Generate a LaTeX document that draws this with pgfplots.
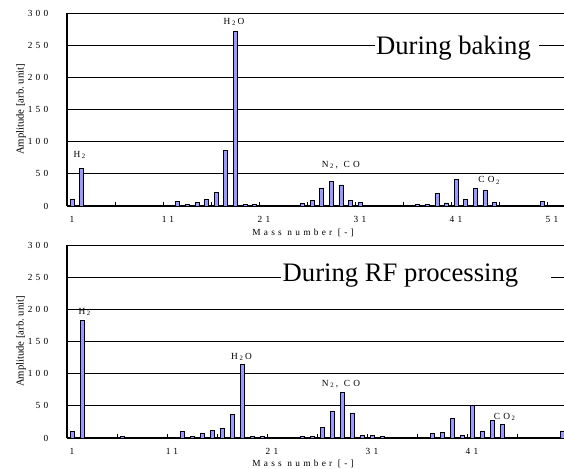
\documentclass[border=0pt]{standalone}
\usepackage{fontspec}
\setmainfont{Liberation Serif}
\newfontfamily\spaced[LetterSpace=35]{Liberation Serif}
\usepackage{pgfplots}
\pgfplotsset{compat=1.18}
\definecolor{barblue}{RGB}{153,153,255}

\tikzset{
  ann/.style={font=\fontsize{7}{8}\selectfont\spaced, inner sep=0pt},
}
\newcommand{\sub}[1]{\,\textsubscript{\spaced #1}\,}
\pgfplotsset{
  spec/.style={
    scale only axis, width=372.75pt, height=144.75pt,
    axis x line*=bottom, axis y line*=left,
    ymin=0, ymax=300, ytick={0,50,...,300},
    ymajorgrids, grid style={black, line width=0.7pt},
    axis line style={black, line width=0.9pt},
    /pgf/number format/assume math mode=true,
    tick label style={font=\fontsize{7}{8}\selectfont\spaced},
    yticklabel style={anchor=east, xshift=-10.5pt},
    xticklabel style={anchor=center, yshift=-10.1pt},
    major x tick style={draw=none},
    major y tick style={draw=none},
    minor x tick style={black, line width=0.5pt},
    xtick align=inside,
    minor tick length=3pt,
    ylabel={Amplitude [arb.\ unit]},
    ylabel style={font=\fontsize{8}{9}\selectfont, at={(axis description cs:-0.0926,0.5)}, anchor=center},
    xlabel={Mass number [-]},
    xlabel style={font=\fontsize{7}{8}\selectfont\spaced, anchor=center},
  },
  bars/.style={ybar, bar width=3pt, fill=barblue, draw=black, line width=0.4pt},
}

\begin{document}
\begin{tikzpicture}
\path[use as bounding box] (0,0) rectangle (423pt,351pt);

% ---------- top: during baking ----------
\begin{axis}[spec,
  at={(50.25pt,196.5pt)}, anchor=south west,
  xmin=0.479, xmax=52.25,
  xtick={1,11,21,31,41,51},
  minor xtick={5.5,10.5,15.5,20.5,25.5,30.5,35.5,40.5,45.5,50.5},
  xlabel style={at={(axis description cs:0.475,-0.14)}},
]
\addplot[bars] coordinates {
(1,11) (2,58) (3,1) (4,1) (5,1)
(12,7) (13,3) (14,6) (15,10) (16,21) (17,87) (18,272) (19,2) (20,2) (22,1)
(25,4) (26,9) (27,28) (28,38) (29,33) (30,9) (31,6) (32,1)
(36,1) (37,2) (38,2) (39,20) (40,5) (41,41) (42,10) (43,27) (44,24) (45,6)
(48,1.5) (49,1.5) (50,7)
};
\fill[white] (axis cs:32.56,227) rectangle (axis cs:49.65,265);
\node[font=\fontsize{20}{24}\selectfont, inner sep=0pt] at (axis cs:40.74,245.5) {During baking};
\node[ann] at (axis cs:1.885,79) {H\sub{2}};
\node[ann] at (axis cs:17.875,286) {H\sub{2}O};
\node[ann] at (axis cs:29.0,64) {N\sub{2}, CO};
\node[ann] at (axis cs:44.54,40) {CO\sub{2}};
\end{axis}

% ---------- bottom: during RF processing ----------
\begin{axis}[spec,
  at={(50.25pt,22.5pt)}, anchor=south west,
  xmin=0.5, xmax=50.2,
  xtick={1,11,21,31,41},
  minor xtick={5.5,10.5,15.5,20.5,25.5,30.5,35.5,40.5,45.5},
  xlabel style={at={(axis description cs:0.475,-0.135)}},
]
\addplot[bars] coordinates {
(1,10) (2,183) (4,1) (6,2)
(11,1) (12,10) (13,3) (14,8) (15,12) (16,15) (17,37) (18,114) (19,2) (20,2)
(23,1) (24,3) (25,3) (26,17) (27,42) (28,71) (29,39) (30,4) (31,4) (32,2)
(37,7) (38,9) (39,30) (40,4) (41,51) (42,11) (43,27) (44,21)
(50,11)
};
\fill[white] (axis cs:21.9,231) rectangle (axis cs:48.9,273);
\node[font=\fontsize{20}{24}\selectfont, inner sep=0pt] at (axis cs:33.85,252) {During RF processing};
\node[ann] at (axis cs:2.35,196) {H\sub{2}};
\node[ann] at (axis cs:17.95,126) {H\sub{2}O};
\node[ann] at (axis cs:27.9,84) {N\sub{2}, CO};
\node[ann] at (axis cs:44.35,33) {CO\sub{2}};
\end{axis}
\end{tikzpicture}
\end{document}
